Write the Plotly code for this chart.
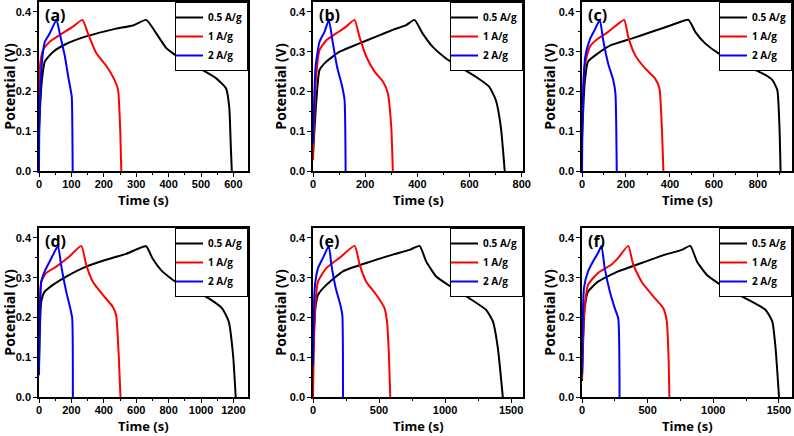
import plotly.graph_objects as go

# ---------------- data ----------------
panel_labels = ["(a)", "(b)", "(c)", "(d)", "(e)", "(f)"]
series_names = ["0.5 A/g", "1 A/g", "2 A/g"]
x_ranges = [[0, 645], [0, 805], [0, 955], [0, 1290], [0, 1590], [0, 1600]]
x_dticks = [100, 200, 200, 200, 500, 500]
y_tick_vals = [0.0, 0.1, 0.2, 0.3, 0.4]

a_05_t = [0, 8, 18, 44, 85, 136, 187, 238, 290, 331, 362, 393, 444, 495, 547, 577, 587, 592, 595]
a_05_v = [0.11, 0.22, 0.275, 0.30, 0.32, 0.336, 0.348, 0.358, 0.366, 0.38, 0.346, 0.309, 0.279, 0.258, 0.233, 0.208, 0.162, 0.06, 0.0]
a_1_t = [0, 3, 13, 33, 64, 105, 134, 151, 177, 208, 233, 244, 251, 254]
a_1_v = [0.1, 0.263, 0.305, 0.325, 0.342, 0.363, 0.38, 0.346, 0.296, 0.264, 0.229, 0.204, 0.095, 0.0]
a_2_t = [0, 1, 8, 18, 33, 54, 64, 80, 90, 101, 103, 104]
a_2_v = [0.0, 0.1, 0.263, 0.325, 0.346, 0.38, 0.346, 0.288, 0.238, 0.187, 0.1, 0.0]

b_05_t = [0, 13, 25, 51, 102, 178, 242, 306, 357, 389, 420, 459, 510, 561, 624, 675, 701, 720, 735]
b_05_v = [0.044, 0.178, 0.254, 0.275, 0.30, 0.321, 0.338, 0.355, 0.367, 0.38, 0.346, 0.312, 0.283, 0.262, 0.237, 0.212, 0.178, 0.111, 0.0]
b_1_t = [0, 10, 25, 51, 89, 127, 159, 178, 204, 236, 268, 287, 300, 306]
b_1_v = [0.027, 0.22, 0.304, 0.329, 0.346, 0.363, 0.38, 0.338, 0.288, 0.25, 0.225, 0.195, 0.111, 0.0]
b_2_t = [0, 10, 25, 44, 61, 74, 92, 112, 121, 125]
b_2_v = [0.07, 0.263, 0.325, 0.35, 0.38, 0.33, 0.263, 0.212, 0.178, 0.0]

c_05_t = [0, 12, 27, 73, 134, 225, 317, 408, 484, 515, 560, 621, 712, 804, 865, 888, 898, 903]
c_05_v = [0.08, 0.22, 0.275, 0.296, 0.317, 0.333, 0.35, 0.367, 0.38, 0.35, 0.321, 0.296, 0.27, 0.25, 0.229, 0.204, 0.111, 0.0]
c_1_t = [0, 12, 35, 73, 119, 164, 192, 210, 241, 287, 332, 352, 363, 370]
c_1_v = [0.12, 0.263, 0.312, 0.333, 0.35, 0.37, 0.38, 0.338, 0.292, 0.258, 0.233, 0.208, 0.111, 0.0]
c_2_t = [0, 4, 15, 35, 58, 81, 96, 119, 142, 152, 158]
c_2_v = [0.0, 0.178, 0.288, 0.33, 0.355, 0.38, 0.33, 0.27, 0.229, 0.195, 0.0]

d_05_t = [0, 14, 35, 86, 168, 291, 414, 537, 661, 700, 761, 843, 946, 1048, 1130, 1171, 1198, 1214]
d_05_v = [0.08, 0.24, 0.265, 0.282, 0.303, 0.328, 0.345, 0.36, 0.379, 0.349, 0.316, 0.29, 0.27, 0.248, 0.223, 0.19, 0.105, 0.0]
d_1_t = [0, 14, 45, 107, 189, 261, 291, 332, 394, 455, 476, 492, 503]
d_1_v = [0.13, 0.29, 0.312, 0.328, 0.354, 0.38, 0.333, 0.29, 0.257, 0.227, 0.206, 0.105, 0.0]
d_2_t = [0, 14, 35, 66, 97, 117, 138, 168, 193, 205, 209]
d_2_v = [0.055, 0.29, 0.316, 0.341, 0.366, 0.38, 0.328, 0.265, 0.223, 0.198, 0.0]

e_05_t = [0, 18, 38, 101, 227, 403, 605, 731, 807, 857, 933, 1059, 1185, 1311, 1362, 1400, 1437]
e_05_v = [0.105, 0.223, 0.257, 0.282, 0.316, 0.337, 0.358, 0.37, 0.38, 0.341, 0.303, 0.274, 0.248, 0.219, 0.19, 0.122, 0.0]
e_1_t = [0, 13, 38, 101, 202, 315, 353, 403, 479, 542, 560, 575, 585]
e_1_v = [0.0, 0.206, 0.29, 0.324, 0.35, 0.38, 0.333, 0.29, 0.257, 0.223, 0.19, 0.105, 0.0]
e_2_t = [0, 13, 38, 76, 119, 139, 172, 207, 222, 227]
e_2_v = [0.08, 0.274, 0.324, 0.35, 0.38, 0.333, 0.274, 0.232, 0.206, 0.0]

f_05_t = [0, 20, 46, 122, 276, 454, 633, 761, 825, 876, 952, 1093, 1246, 1399, 1450, 1475, 1501]
f_05_v = [0.04, 0.223, 0.265, 0.29, 0.316, 0.337, 0.358, 0.37, 0.38, 0.341, 0.307, 0.274, 0.248, 0.219, 0.19, 0.122, 0.0]
f_1_t = [0, 15, 46, 122, 225, 276, 352, 390, 454, 543, 620, 646, 659, 666]
f_1_v = [0.046, 0.206, 0.282, 0.312, 0.333, 0.35, 0.38, 0.333, 0.29, 0.253, 0.223, 0.19, 0.105, 0.0]
f_2_t = [0, 15, 46, 84, 122, 148, 173, 212, 250, 276, 286]
f_2_v = [0.055, 0.274, 0.316, 0.341, 0.362, 0.38, 0.324, 0.265, 0.223, 0.198, 0.0]

panels = [
    [(a_05_t, a_05_v), (a_1_t, a_1_v), (a_2_t, a_2_v)],
    [(b_05_t, b_05_v), (b_1_t, b_1_v), (b_2_t, b_2_v)],
    [(c_05_t, c_05_v), (c_1_t, c_1_v), (c_2_t, c_2_v)],
    [(d_05_t, d_05_v), (d_1_t, d_1_v), (d_2_t, d_2_v)],
    [(e_05_t, e_05_v), (e_1_t, e_1_v), (e_2_t, e_2_v)],
    [(f_05_t, f_05_v), (f_1_t, f_1_v), (f_2_t, f_2_v)],
]

# ---------------- styling / layout ----------------
W, H = 794, 436
colors = ["#000000", "#ff0000", "#0000ff"]
col_px = [(39, 248), (313, 523), (582, 792)]
row_px = [(2, 171), (228, 397)]  # top, bottom (pixels from top)

TICK_FONT = dict(family="Liberation Sans", size=11, color="black", weight="bold")
TITLE_FONT = dict(family="Open Sans", size=13, color="black", weight="bold")
LEG_FONT = dict(family="Open Sans", size=10, color="black", weight="bold")

fig = go.Figure()
layout = dict(
    width=W, height=H,
    margin=dict(l=0, r=0, t=0, b=0, autoexpand=False),
    paper_bgcolor="white", plot_bgcolor="white",
    showlegend=True,
)
annotations = []

for i in range(6):
    r, c = divmod(i, 3)
    x0, x1 = col_px[c][0] / W, col_px[c][1] / W
    y0, y1 = 1 - row_px[r][1] / H, 1 - row_px[r][0] / H
    sfx = "" if i == 0 else str(i + 1)
    xa, ya = "x" + sfx, "y" + sfx
    leg = "legend" + sfx

    for k, (t, v) in enumerate(panels[i]):
        fig.add_trace(go.Scatter(
            x=t, y=v, mode="lines", name=series_names[k],
            line=dict(color=colors[k], width=2, shape="spline", smoothing=0.5),
            xaxis=xa, yaxis=ya, legend=leg,
        ))

    common = dict(
        showline=True, linecolor="black", linewidth=1.5, mirror=True,
        ticks="outside", ticklen=4, tickwidth=1.2, tickcolor="black",
        showgrid=False, zeroline=False, tickfont=TICK_FONT, automargin=False,
    )
    layout["xaxis" + sfx] = dict(
        common, domain=[x0, x1], anchor=ya, range=x_ranges[i],
        dtick=x_dticks[i], tick0=0, ticklabelstandoff=-2,
        minor=dict(ticks="outside", ticklen=2, dtick=x_dticks[i] / 2, tickcolor="black"),
    )
    layout["yaxis" + sfx] = dict(
        common, domain=[y0, y1], anchor=xa, range=[0, 0.425],
        tickvals=y_tick_vals, tickformat=".1f",
        minor=dict(ticks="outside", ticklen=2, dtick=0.05, tickcolor="black"),
        title=dict(text="Potential (V)", font=dict(TITLE_FONT, size=14), standoff=0),
    )
    layout[leg] = dict(
        x=x1, y=y1, xanchor="right", yanchor="top", xref="paper", yref="paper",
        bgcolor="white", bordercolor="black", borderwidth=1,
        font=LEG_FONT, itemwidth=30, tracegroupgap=0, indentation=-8,
    )
    # x-axis title (placed as annotation for exact vertical position)
    annotations.append(dict(
        text="Time (s)", xref=xa + " domain", yref=ya + " domain",
        x=0.5, y=0, xanchor="center", yanchor="top", yshift=-18, showarrow=False,
        font=TITLE_FONT,
    ))
    annotations.append(dict(
        text=panel_labels[i], xref=xa + " domain", yref=ya + " domain",
        x=0.02, y=1.0, xanchor="left", yanchor="top", showarrow=False,
        font=dict(family="Open Sans", size=16, color="black", weight="bold"),
    ))

layout["annotations"] = annotations
fig.update_layout(**layout)
fig.write_html(
    "out.html",
    config={"displayModeBar": False},
    post_script="document.body.style.margin='0';document.body.style.overflow='hidden';",
)
